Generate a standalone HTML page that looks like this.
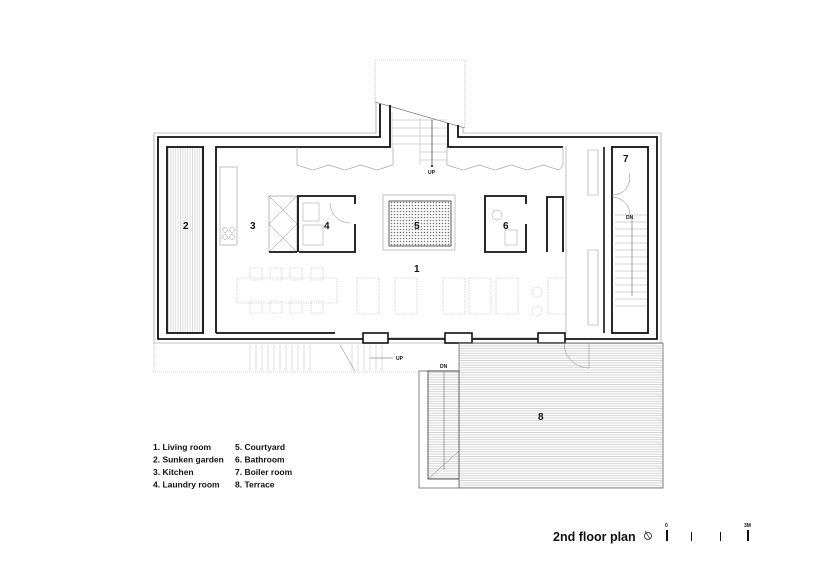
<!DOCTYPE html>
<html><head><meta charset="utf-8"><style>
html,body{margin:0;padding:0;background:#fff;}
svg{display:block;}
text{font-family:"Liberation Sans",Arial,sans-serif;font-weight:bold;fill:#111;}
</style></head><body>
<svg width="818" height="579" viewBox="0 0 818 579" xmlns="http://www.w3.org/2000/svg">
<defs>
<pattern id="hz" width="4" height="2.4" patternUnits="userSpaceOnUse"><line x1="0" y1="0.5" x2="4" y2="0.5" stroke="#aaa" stroke-width="0.5"/></pattern>
<pattern id="vt" width="2.4" height="4" patternUnits="userSpaceOnUse"><line x1="0.5" y1="0" x2="0.5" y2="4" stroke="#bbb" stroke-width="0.5"/></pattern>
<pattern id="dots" width="3" height="3" patternUnits="userSpaceOnUse"><circle cx="1.5" cy="1.5" r="0.8" fill="#777"/></pattern>
</defs>
<path d="M375,102 L375,60 L465,60 L465,127" fill="none" stroke="#aaa" stroke-width="0.6" stroke-dasharray="1,1"/>
<line x1="375" y1="102" x2="465" y2="128" stroke="#555" stroke-width="0.6"/>
<path d="M376,103 L376,133 L154,133 L154,343 L661,343 L661,133 L463,133 L463,127" fill="none" stroke="#888" stroke-width="0.6"/>
<path d="M380,104 L380,137 L158,137 L158,339 L657,339 L657,137 L458,137 L458,125" fill="none" stroke="#111" stroke-width="1.8"/>
<path d="M216,333 L216,147 L390,147 L390,105 M448,123 L448,147 L563,147" fill="none" stroke="#111" stroke-width="1.8"/>
<path d="M216,333 L335,333" stroke="#111" stroke-width="1.8"/>
<line x1="203" y1="147" x2="203" y2="333" stroke="#111" stroke-width="1.5"/>
<g stroke="#aaa" stroke-width="0.5">
<line x1="392" y1="112" x2="392" y2="147"/><line x1="420" y1="118" x2="420" y2="165"/><line x1="432" y1="118" x2="432" y2="165"/>
<line x1="392" y1="120" x2="447" y2="120"/><line x1="392" y1="128" x2="447" y2="128"/><line x1="392" y1="136" x2="447" y2="136"/><line x1="392" y1="144" x2="447" y2="144"/><line x1="420" y1="152" x2="447" y2="152"/><line x1="420" y1="160" x2="447" y2="160"/>
</g>
<line x1="432" y1="120" x2="432" y2="166" stroke="#333" stroke-width="0.6"/>
<circle cx="432" cy="166" r="1" fill="#111"/>
<text x="428" y="174" font-size="5" font-weight="normal">UP</text>
<rect x="167" y="147" width="36" height="186" fill="url(#vt)" stroke="#111" stroke-width="1.8"/>
<rect x="612" y="147" width="36" height="186" fill="none" stroke="#111" stroke-width="1.8"/>
<line x1="604" y1="147" x2="604" y2="333" stroke="#111" stroke-width="1.6"/>
<line x1="566" y1="147" x2="566" y2="333" stroke="#999" stroke-width="0.6"/>
<g stroke="#aaa" stroke-width="0.5">
<line x1="615" y1="215" x2="647" y2="215"/>
<line x1="615" y1="222" x2="647" y2="222"/><line x1="615" y1="229" x2="647" y2="229"/><line x1="615" y1="236" x2="647" y2="236"/><line x1="615" y1="243" x2="647" y2="243"/><line x1="615" y1="250" x2="647" y2="250"/><line x1="615" y1="257" x2="647" y2="257"/><line x1="615" y1="264" x2="647" y2="264"/><line x1="615" y1="271" x2="647" y2="271"/><line x1="615" y1="278" x2="647" y2="278"/><line x1="615" y1="285" x2="647" y2="285"/><line x1="615" y1="292" x2="647" y2="292"/><line x1="615" y1="299" x2="647" y2="299"/><line x1="615" y1="306" x2="647" y2="306"/>
</g>
<line x1="632" y1="218" x2="632" y2="296" stroke="#555" stroke-width="0.5"/>
<text x="626" y="219" font-size="5" font-weight="normal">DN</text>
<path d="M612,197 A18,18 0 0 1 630,215" fill="none" stroke="#777" stroke-width="0.5"/>
<path d="M612,195 A17,17 0 0 0 629,173" fill="none" stroke="#777" stroke-width="0.5"/>
<g fill="none" stroke="#999" stroke-width="0.6">
<path d="M297,147 L297,165 L313,170 L329,165 L345,170 L361,165 L377,170 L393,165 L393,147"/>
<path d="M447,147 L447,165 L463,170 L479,165 L495,170 L511,165 L527,170 L543,165 L559,170 L563,165 L563,147"/>
<path d="M588,150 L598,150 L598,195 L588,195 Z M588,250 L598,250 L598,325 L588,325 Z"/>
</g>
<rect x="220" y="167" width="17" height="78" fill="none" stroke="#999" stroke-width="0.6"/>
<circle cx="225" cy="230" r="2.5" fill="none" stroke="#999" stroke-width="0.5"/><circle cx="232" cy="230" r="2.5" fill="none" stroke="#999" stroke-width="0.5"/><circle cx="225" cy="237" r="2.5" fill="none" stroke="#999" stroke-width="0.5"/><circle cx="232" cy="237" r="2.5" fill="none" stroke="#999" stroke-width="0.5"/>
<rect x="269" y="196" width="28" height="56" fill="none" stroke="#888" stroke-width="0.6"/>
<path d="M269,196 L297,224 M297,196 L269,224 M269,224 L297,252 M297,224 L269,252" stroke="#888" stroke-width="0.5"/>
<path d="M299,252 L355,252 L355,224 M355,204 L355,196 L298,196 L298,252" fill="none" stroke="#111" stroke-width="1.8"/>
<path d="M269,252 L297,252" stroke="#111" stroke-width="1.8"/>
<rect x="303" y="203" width="16" height="18" fill="none" stroke="#999" stroke-width="0.5"/>
<rect x="303" y="225" width="20" height="20" fill="none" stroke="#999" stroke-width="0.5"/>
<path d="M330,203 A20,20 0 0 0 350,223" fill="none" stroke="#888" stroke-width="0.5"/>
<rect x="383" y="195" width="72" height="55" fill="none" stroke="#999" stroke-width="0.6"/>
<rect x="389" y="201" width="62" height="45" fill="url(#dots)" stroke="#333" stroke-width="0.8"/>
<path d="M526,204 L526,196 L485,196 L485,252 L526,252 L526,224" fill="none" stroke="#111" stroke-width="1.8"/>
<circle cx="497" cy="215" r="5" fill="none" stroke="#999" stroke-width="0.5"/>
<rect x="505" y="230" width="12" height="15" fill="none" stroke="#999" stroke-width="0.5"/>
<path d="M547,252 L547,197 L563,197 L563,252" fill="none" stroke="#111" stroke-width="1.8"/>
<g fill="none" stroke="#bbb" stroke-width="0.6" stroke-dasharray="1.5,1">
<rect x="237" y="278" width="100" height="25"/>
<rect x="250" y="268" width="12" height="12"/><rect x="270" y="268" width="12" height="12"/><rect x="290" y="268" width="12" height="12"/><rect x="311" y="268" width="12" height="12"/>
<rect x="250" y="301" width="12" height="12"/><rect x="270" y="301" width="12" height="12"/><rect x="290" y="301" width="12" height="12"/><rect x="311" y="301" width="12" height="12"/>
<rect x="357" y="278" width="22" height="36"/><rect x="395" y="278" width="22" height="36"/>
<rect x="443" y="278" width="22" height="36"/><rect x="469" y="278" width="22" height="36"/><rect x="496" y="278" width="22" height="36"/><rect x="548" y="278" width="18" height="36"/>
<circle cx="537" cy="292" r="5"/><circle cx="537" cy="311" r="5"/>
</g>
<g fill="#fff" stroke="#111" stroke-width="1.6">
<rect x="363" y="333" width="25" height="10"/><rect x="445" y="333" width="27" height="10"/><rect x="538" y="333" width="27" height="10"/>
</g>
<line x1="388" y1="338" x2="445" y2="338" stroke="#555" stroke-width="0.6"/>
<line x1="472" y1="338" x2="538" y2="338" stroke="#555" stroke-width="0.6"/>
<path d="M564,343 A25,25 0 0 0 589,368 L589,343" fill="none" stroke="#777" stroke-width="0.5"/>
<path d="M154,343 L154,372 L419,372" fill="none" stroke="#aaa" stroke-width="0.6" stroke-dasharray="1,1"/>
<g stroke="#bbb" stroke-width="0.5">
<line x1="250" y1="345" x2="250" y2="371"/><line x1="256" y1="345" x2="256" y2="371"/><line x1="262" y1="345" x2="262" y2="371"/><line x1="268" y1="345" x2="268" y2="371"/><line x1="274" y1="345" x2="274" y2="371"/><line x1="280" y1="345" x2="280" y2="371"/><line x1="286" y1="345" x2="286" y2="371"/><line x1="292" y1="345" x2="292" y2="371"/><line x1="298" y1="345" x2="298" y2="371"/><line x1="304" y1="345" x2="304" y2="371"/><line x1="310" y1="345" x2="310" y2="371"/>
<line x1="352" y1="345" x2="352" y2="371"/><line x1="358" y1="345" x2="358" y2="371"/><line x1="364" y1="345" x2="364" y2="371"/><line x1="370" y1="345" x2="370" y2="371"/><line x1="376" y1="345" x2="376" y2="371"/><line x1="382" y1="345" x2="382" y2="371"/>
</g>
<line x1="340" y1="345" x2="355" y2="371" stroke="#777" stroke-width="0.5"/>
<line x1="370" y1="358" x2="393" y2="358" stroke="#555" stroke-width="0.5"/>
<text x="396" y="360" font-size="5" font-weight="normal">UP</text>
<rect x="419" y="371" width="40" height="117" fill="none" stroke="#666" stroke-width="0.8"/>
<rect x="428" y="371" width="31" height="108" fill="url(#hz)" stroke="#333" stroke-width="0.8"/>
<line x1="428" y1="479" x2="459" y2="451" stroke="#777" stroke-width="0.5"/>
<line x1="444" y1="372" x2="444" y2="470" stroke="#555" stroke-width="0.5"/>
<text x="440" y="368" font-size="5" font-weight="normal">DN</text>
<rect x="459" y="343" width="204" height="145" fill="url(#hz)" stroke="#666" stroke-width="0.8"/>
<text x="183" y="229" font-size="10">2</text>
<text x="250" y="229" font-size="10">3</text>
<text x="324" y="229" font-size="10">4</text>
<text x="414" y="229" font-size="10">5</text>
<text x="503" y="229" font-size="10">6</text>
<text x="414" y="272" font-size="10">1</text>
<text x="623" y="162" font-size="10">7</text>
<text x="538" y="420" font-size="10">8</text>
<g font-size="8.5">
<text x="153" y="450">1. Living room</text>
<text x="153" y="462.5">2. Sunken garden</text>
<text x="153" y="475">3. Kitchen</text>
<text x="153" y="487.5">4. Laundry room</text>
<text x="235" y="450">5. Courtyard</text>
<text x="235" y="462.5">6. Bathroom</text>
<text x="235" y="475">7. Boiler room</text>
<text x="235" y="487.5">8. Terrace</text>
</g>
<text x="553" y="541" font-size="12.5">2nd floor plan</text>
<circle cx="648" cy="536" r="3.5" fill="none" stroke="#111" stroke-width="0.8"/>
<line x1="645" y1="531" x2="650" y2="539" stroke="#111" stroke-width="0.7"/>
<g fill="#111">
<rect x="666" y="530" width="2" height="11"/><rect x="691" y="532" width="1" height="9"/><rect x="720" y="532" width="1" height="9"/><rect x="747" y="530" width="2" height="11"/>
</g>
<text x="665" y="527" font-size="5">0</text>
<text x="744" y="527" font-size="5">3M</text>
</svg>
</body></html>
